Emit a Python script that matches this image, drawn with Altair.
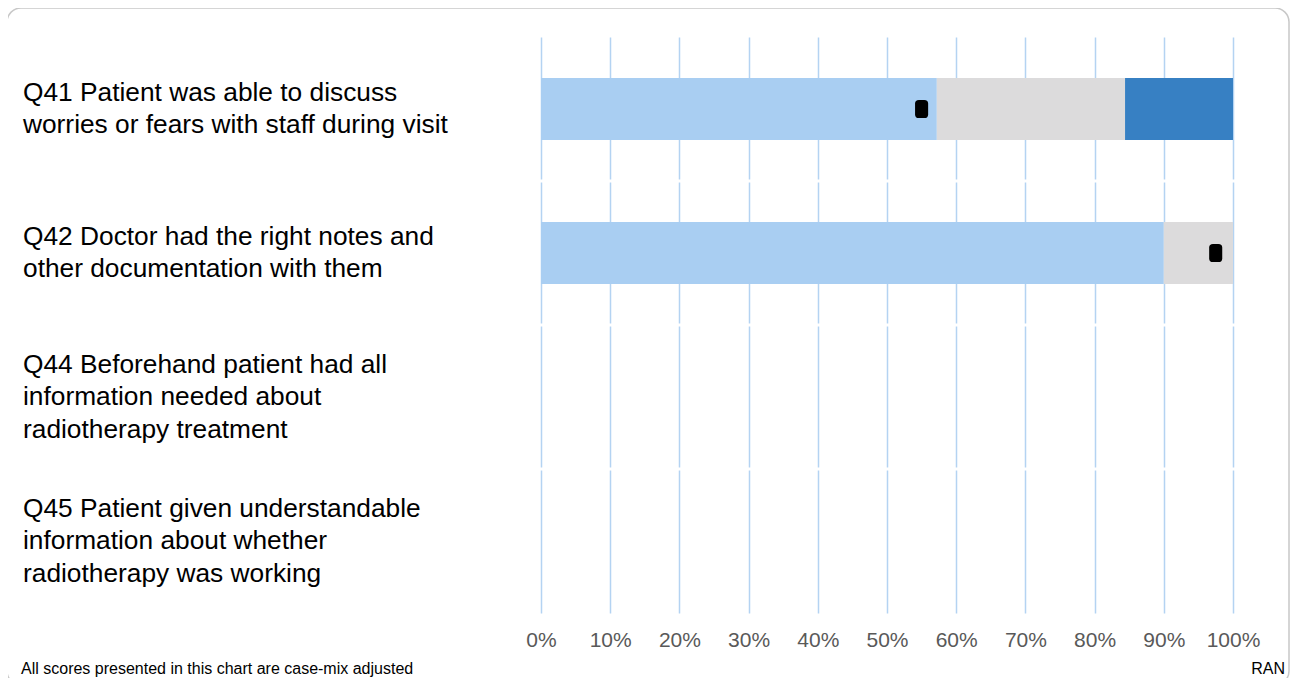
import altair as alt
import pandas as pd

questions = ["Q41", "Q42", "Q44", "Q45"]
labels = [
    "Q41 Patient was able to discuss\nworries or fears with staff during visit",
    "Q42 Doctor had the right notes and\nother documentation with them",
    "Q44 Beforehand patient had all\ninformation needed about\nradiotherapy treatment",
    "Q45 Patient given understandable\ninformation about whether\nradiotherapy was working",
]
segments = ["low", "mid", "high"]
seg_colors = ["#A9CEF2", "#DCDBDC", "#3780C3"]
bar_questions = ["Q41", "Q41", "Q41", "Q42", "Q42"]
bar_segments = ["low", "mid", "high", "low", "mid"]
bar_values = [0.572, 0.272, 0.156, 0.900, 0.100]
marker_questions = ["Q41", "Q42"]
marker_values = [0.550, 0.975]
tick_values = [0, 0.1, 0.2, 0.3, 0.4, 0.5, 0.6, 0.7, 0.8, 0.9, 1.0]
boundary_questions = ["Q42", "Q44", "Q45"]

W, H = 692, 576
LH = 32.5

bars_df = pd.DataFrame({
    "q": bar_questions,
    "seg": bar_segments,
    "v": bar_values,
    "o": [segments.index(s) for s in bar_segments],
})
marks_df = pd.DataFrame({"q": marker_questions, "v": marker_values})
labels_df = pd.DataFrame({"q": questions, "label": labels})
labels_df["n"] = labels_df["label"].str.count("\n") + 1
bound_df = pd.DataFrame({"q": boundary_questions})

yscale = alt.Scale(domain=questions, paddingInner=0, paddingOuter=0)
xscale = alt.Scale(domain=[0, 1], nice=False)

xaxis = alt.Axis(
    values=tick_values, format="%", grid=True, gridColor="#B4D3F2", gridWidth=1.5,
    domain=False, ticks=False, labelColor="#595959", labelFontSize=21,
    labelFont="Liberation Sans", labelPadding=16, title=None, labelOverlap=False,
    labelFlush=False,
)

bars = alt.Chart(bars_df).mark_bar(size=62).encode(
    x=alt.X("v:Q", stack="zero", scale=xscale, axis=xaxis),
    y=alt.Y("q:N", scale=yscale, axis=None),
    color=alt.Color("seg:N", scale=alt.Scale(domain=segments, range=seg_colors), legend=None),
    order=alt.Order("o:Q"),
)

boundaries = alt.Chart(bound_df).mark_rule(color="white", strokeWidth=3).encode(
    y=alt.Y("q:N", scale=yscale, axis=None, bandPosition=0),
    x=alt.value(-2),
    x2=alt.value(W + 2),
)

marker_path = ("M -0.72 -0.6 Q -0.72 -1 -0.3 -1 L 0.3 -1 Q 0.72 -1 0.72 -0.6 "
               "L 0.72 0.6 Q 0.72 1 0.3 1 L -0.3 1 Q -0.72 1 -0.72 0.6 Z")
markers = alt.Chart(marks_df).mark_point(
    shape=marker_path, filled=True, color="black", size=330, opacity=1
).encode(
    x=alt.X("v:Q", scale=xscale),
    y=alt.Y("q:N", scale=yscale, axis=None),
)

def label_layer(n):
    return alt.Chart(labels_df).transform_filter(alt.datum.n == n).mark_text(
        align="left", baseline="middle", fontSize=26.3, font="Liberation Sans",
        color="black", lineBreak="\n", lineHeight=LH, dy=-(n - 1) * LH / 2,
    ).encode(
        y=alt.Y("q:N", scale=yscale, axis=None),
        x=alt.value(-518),
        text="label:N",
    )

qlabels2 = label_layer(2)
qlabels3 = label_layer(3)

footer_df = pd.DataFrame({"t": ["All scores presented in this chart are case-mix adjusted"]})
footer = alt.Chart(footer_df).mark_text(
    align="left", baseline="alphabetic", fontSize=16, font="Liberation Sans", color="black"
).encode(x=alt.value(-520), y=alt.value(637), text="t:N")

ran_df = pd.DataFrame({"t": ["RAN"]})
ran = alt.Chart(ran_df).mark_text(
    align="right", baseline="alphabetic", fontSize=16, font="Liberation Sans", color="black"
).encode(x=alt.value(744), y=alt.value(637), text="t:N")

border_df = pd.DataFrame({"k": [1]})
border = alt.Chart(border_df).mark_rect(
    fill="transparent", stroke="#C8C8C8", strokeWidth=1.5, cornerRadius=14
).encode(x=alt.value(-534), x2=alt.value(748), y=alt.value(-29), y2=alt.value(648))

chart = alt.layer(bars, boundaries, markers, qlabels2, qlabels3, footer, ran, border).properties(
    width=W, height=H,
    autosize=alt.AutoSizeParams(type="none"),
    padding={"left": 533, "top": 29, "right": 57, "bottom": 65},
).configure_view(stroke=None)

chart.save("out.html", embed_options={"renderer": "svg", "actions": False})
